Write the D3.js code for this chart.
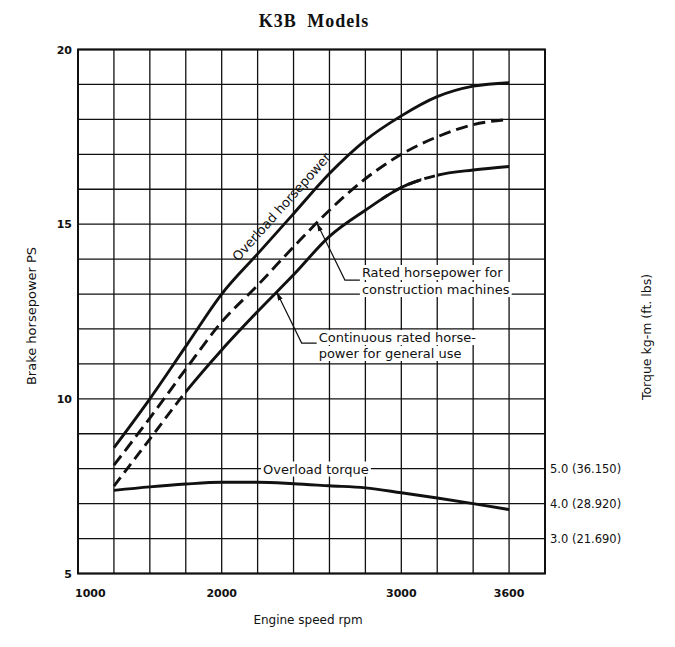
<!DOCTYPE html>
<html>
<head>
<meta charset="utf-8">
<script src="https://cdn.jsdelivr.net/npm/d3@7/dist/d3.min.js"></script>
<style>
  body { margin: 0; background: #fff; }
  svg { font-family: "DejaVu Sans", sans-serif; }
  text { fill: #111; }
</style>
</head>
<body>
<div id="chart"></div>
<script>
// engine speed (rpm) where the curves were read
var rpm = [1250, 1500, 1750, 2000, 2200, 2400, 2600, 2800, 3000, 3200, 3400, 3600];

// brake horsepower PS
var overloadHp   = [8.6, 10.0, 11.5, 13.0, 14.15, 15.3, 16.45, 17.4, 18.1, 18.65, 18.95, 19.05];
var ratedHp      = [8.1, 9.45, 10.85, 12.2, 13.25, 14.35, 15.4, 16.3, 17.0, 17.5, 17.85, 18.0];
var continuousHp = [7.5, 8.85, 10.2, 11.4, 12.5, 13.55, 14.65, 15.4, 16.05, 16.4, 16.55, 16.65];

// overload torque kg-m
var overloadTorque = [4.38, 4.48, 4.56, 4.61, 4.61, 4.57, 4.51, 4.45, 4.31, 4.16, 4.0, 3.83];

// axes
var xGrid = [1000, 1250, 1500, 1750, 2000, 2200, 2400, 2600, 2800, 3000, 3200, 3400, 3600, 3800];
var xTickLabels = [1000, 2000, 3000, 3600];
var yGrid = d3.range(5, 21, 1);
var yTickLabels = [5, 10, 15, 20];
var torqueTicks = [3, 4, 5];
var torqueTickText = ['3.0 (21.690)', '4.0 (28.920)', '5.0 (36.150)'];

// parts of the continuous curve that are printed dashed
var continuousDashed = [[1250, 1750], [3000, 3200]];

var W = 675, H = 647;
var plot = { left: 78, right: 545, top: 49.5, bottom: 573.5 };
var cell = (plot.right - plot.left) / 13;

var svg = d3.select('#chart')
  .append('svg')
  .attr('width', W)
  .attr('height', H);

// the printed axis: 4 cells from 1000 to 2000, then 200 rpm per cell
var x = d3.scaleLinear()
  .domain([1000, 2000, 3800])
  .range([plot.left, plot.left + 4 * cell, plot.right]);

var y = d3.scaleLinear()
  .domain([5, 20])
  .range([plot.bottom, plot.top]);

// torque 3..5 sits on the 6..8 PS grid lines
var yT = d3.scaleLinear()
  .domain([3, 5])
  .range([y(6), y(8)]);

function valueAt(series, r) {
  var i = d3.bisectLeft(rpm, r);
  if (i <= 0) return series[0];
  if (i >= rpm.length) return series[series.length - 1];
  var t = (r - rpm[i - 1]) / (rpm[i] - rpm[i - 1]);
  return series[i - 1] + t * (series[i] - series[i - 1]);
}

var defs = svg.append('defs');

defs.append('marker')
  .attr('id', 'arrow')
  .attr('viewBox', '0 0 10 6')
  .attr('refX', 10)
  .attr('refY', 3)
  .attr('markerWidth', 9)
  .attr('markerHeight', 5)
  .attr('markerUnits', 'userSpaceOnUse')
  .attr('orient', 'auto-start-reverse')
  .append('path')
  .attr('d', 'M0,0L10,3L0,6Z')
  .attr('fill', '#111');

// clip paths for dashed / solid parts of continuous curve
var clipDash = defs.append('clipPath').attr('id', 'clip-dash');
clipDash.selectAll('rect')
  .data(continuousDashed).enter()
  .append('rect')
  .attr('x', function (d) { return x(d[0]) - 20; })
  .attr('width', function (d) { return x(d[1]) - x(d[0]) + 20; })
  .attr('y', 0)
  .attr('height', H);

var solidRanges = [];
var prev = rpm[0];
continuousDashed.forEach(function (d) {
  if (d[0] > prev) solidRanges.push([prev, d[0]]);
  prev = d[1];
});
if (prev < rpm[rpm.length - 1]) solidRanges.push([prev, rpm[rpm.length - 1]]);

var clipSolid = defs.append('clipPath').attr('id', 'clip-solid');
clipSolid.selectAll('rect')
  .data(solidRanges).enter()
  .append('rect')
  .attr('x', function (d) { return x(d[0]); })
  .attr('width', function (d) { return x(d[1]) - x(d[0]) + 20; })
  .attr('y', 0)
  .attr('height', H);

// grid
var grid = svg.append('g').attr('class', 'grid');

grid.selectAll('line.v')
  .data(xGrid).enter()
  .append('line')
  .attr('class', 'v')
  .attr('x1', function (d) { return x(d); })
  .attr('x2', function (d) { return x(d); })
  .attr('y1', plot.top)
  .attr('y2', plot.bottom)
  .attr('stroke', '#111')
  .attr('stroke-width', 1.3);

grid.selectAll('line.h')
  .data(yGrid).enter()
  .append('line')
  .attr('class', 'h')
  .attr('x1', plot.left)
  .attr('x2', plot.right)
  .attr('y1', function (d) { return y(d); })
  .attr('y2', function (d) { return y(d); })
  .attr('stroke', '#111')
  .attr('stroke-width', 1.3);

// frame
svg.append('rect')
  .attr('x', plot.left)
  .attr('y', plot.top)
  .attr('width', plot.right - plot.left)
  .attr('height', plot.bottom - plot.top)
  .attr('fill', 'none')
  .attr('stroke', '#111')
  .attr('stroke-width', 2);

// annotations with white background (drawn before curves so the curves stay on top)
var notes = svg.append('g').attr('class', 'notes');

function whiteBack(g) {
  g.selectAll('text').each(function () {
    var b = this.getBBox();
    g.insert('rect', 'text')
      .attr('x', b.x - 2)
      .attr('y', b.y)
      .attr('width', b.width + 4)
      .attr('height', b.height)
      .attr('fill', '#fff');
  });
}

// rated horsepower note
var rAnchor = 2530;
var rx = x(rAnchor), ry = y(valueAt(ratedHp, rAnchor));
var gR = notes.append('g');
gR.append('text')
  .attr('x', rx + 45).attr('y', ry + 54)
  .attr('font-size', 13)
  .text('Rated horsepower for');
gR.append('text')
  .attr('x', rx + 45).attr('y', ry + 71)
  .attr('font-size', 13)
  .text('construction machines');
whiteBack(gR);

// continuous horsepower note
var cAnchor = 2306;
var cx = x(cAnchor), cy = y(valueAt(continuousHp, cAnchor));
var gC = notes.append('g');
gC.append('text')
  .attr('x', cx + 42).attr('y', cy + 50)
  .attr('font-size', 13)
  .text('Continuous rated horse-');
gC.append('text')
  .attr('x', cx + 42).attr('y', cy + 66)
  .attr('font-size', 13)
  .text('power for general use');
whiteBack(gC);

// overload torque note
var tAnchor = 2230;
var gT = notes.append('g');
gT.append('text')
  .attr('x', x(tAnchor))
  .attr('y', yT(valueAt(overloadTorque, tAnchor)) - 9)
  .attr('font-size', 13)
  .text('Overload torque');
whiteBack(gT);

// curves
var hpLine = function (series) {
  return d3.line()
    .x(function (d, i) { return x(rpm[i]); })
    .y(function (d) { return y(d); })
    .curve(d3.curveMonotoneX)(series);
};

var curves = svg.append('g').attr('class', 'curves')
  .attr('fill', 'none')
  .attr('stroke', '#111')
  .attr('stroke-width', 2.9);

curves.append('path')
  .attr('d', hpLine(overloadHp));

curves.append('path')
  .attr('d', hpLine(ratedHp))
  .attr('stroke-dasharray', '12,6');

curves.append('path')
  .attr('d', hpLine(continuousHp))
  .attr('clip-path', 'url(#clip-solid)');

curves.append('path')
  .attr('d', hpLine(continuousHp))
  .attr('stroke-dasharray', '11,6')
  .attr('clip-path', 'url(#clip-dash)');

curves.append('path')
  .attr('d', d3.line()
    .x(function (d, i) { return x(rpm[i]); })
    .y(function (d) { return yT(d); })
    .curve(d3.curveMonotoneX)(overloadTorque));

// leader lines
var leaders = svg.append('g')
  .attr('fill', 'none')
  .attr('stroke', '#111')
  .attr('stroke-width', 1.2);

leaders.append('path')
  .attr('d', d3.line()([[rx, ry], [rx + 28, ry + 57], [rx + 43, ry + 57]]))
  .attr('marker-start', 'url(#arrow)');

leaders.append('path')
  .attr('d', d3.line()([[cx, cy], [cx + 25, cy + 51], [cx + 40, cy + 51]]))
  .attr('marker-start', 'url(#arrow)');

// overload horsepower label along the curve
var oA = 2130, oB = 2500;
var ox = x(oA), oy = y(valueAt(overloadHp, oA));
var ang = Math.atan2(y(valueAt(overloadHp, oB)) - oy, x(oB) - ox) * 180 / Math.PI;
svg.append('text')
  .attr('transform', 'translate(' + ox + ',' + oy + ') rotate(' + ang + ')')
  .attr('y', -9)
  .attr('font-size', 13)
  .text('Overload horsepower');

// x tick labels
svg.append('g')
  .selectAll('text')
  .data(xTickLabels).enter()
  .append('text')
  .attr('x', function (d, i) { return i === 0 ? x(d) - 3 : x(d); })
  .attr('y', plot.bottom + 23)
  .attr('text-anchor', function (d, i) { return i === 0 ? 'start' : 'middle'; })
  .attr('font-size', 11)
  .attr('font-weight', 'bold')
  .text(function (d) { return d; });

// y tick labels
svg.append('g')
  .selectAll('text')
  .data(yTickLabels).enter()
  .append('text')
  .attr('x', plot.left - 6)
  .attr('y', function (d) { return y(d) + 4; })
  .attr('text-anchor', 'end')
  .attr('font-size', 11)
  .attr('font-weight', 'bold')
  .text(function (d) { return d; });

// torque tick labels
svg.append('g')
  .selectAll('text')
  .data(torqueTicks).enter()
  .append('text')
  .attr('x', plot.right + 5)
  .attr('y', function (d) { return yT(d) + 4; })
  .attr('font-size', 11.5)
  .text(function (d, i) { return torqueTickText[i]; });

// titles
svg.append('text')
  .attr('x', 314)
  .attr('y', 27)
  .attr('text-anchor', 'middle')
  .style('font-family', '"Liberation Serif", "DejaVu Serif", serif')
  .attr('font-weight', 'bold')
  .attr('font-size', 18)
  .attr('letter-spacing', 1)
  .attr('word-spacing', 5)
  .text('K3B Models');

svg.append('text')
  .attr('x', 308)
  .attr('y', 624)
  .attr('text-anchor', 'middle')
  .attr('font-size', 12)
  .text('Engine speed rpm');

svg.append('text')
  .attr('transform', 'translate(36,316) rotate(-90)')
  .attr('text-anchor', 'middle')
  .attr('font-size', 13)
  .text('Brake horsepower PS');

svg.append('text')
  .attr('transform', 'translate(651,337) rotate(-90)')
  .attr('text-anchor', 'middle')
  .attr('font-size', 12.5)
  .text('Torque kg-m (ft. lbs)');
</script>
</body>
</html>
